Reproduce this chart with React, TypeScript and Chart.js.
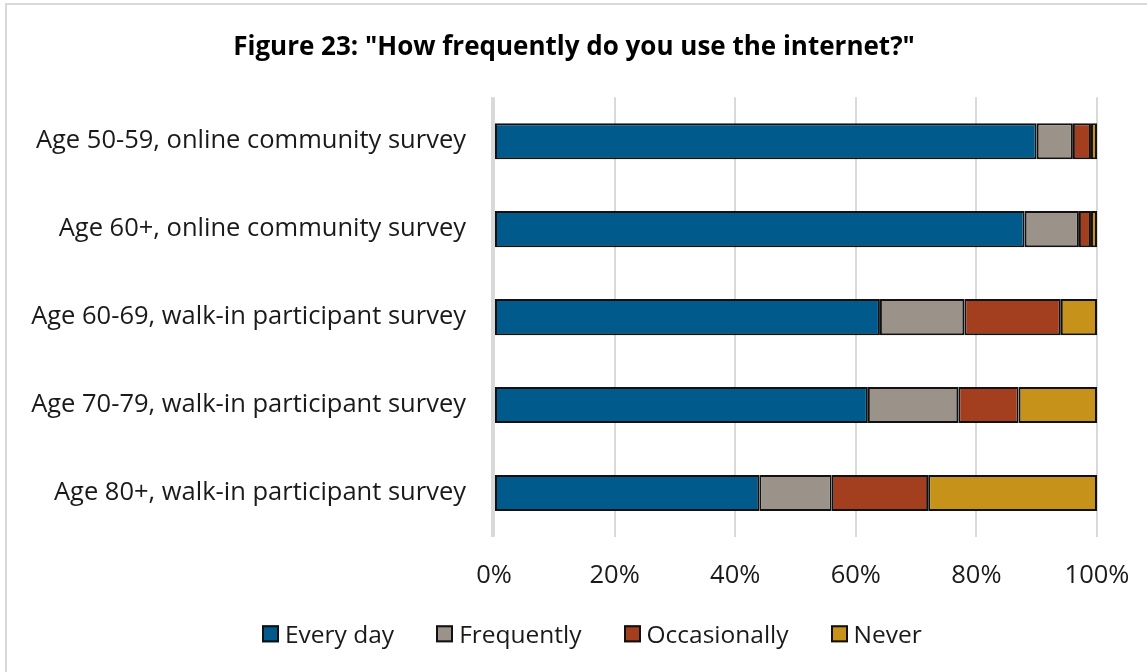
import React, { useEffect, useRef } from "react";
import { Chart, registerables } from "chart.js";

Chart.register(...registerables);

const categories = [
  "Age 50-59, online community survey",
  "Age 60+, online community survey",
  "Age 60-69, walk-in participant survey",
  "Age 70-79, walk-in participant survey",
  "Age 80+, walk-in participant survey",
];
const everyDay = [90, 88, 64, 62, 44];
const frequently = [6, 9, 14, 15, 12];
const occasionally = [3, 2, 16, 10, 16];
const never = [1, 1, 6, 13, 28];
const seriesNames = ["Every day", "Frequently", "Occasionally", "Never"];
const seriesColors = ["#005A8C", "#9B9389", "#A33F1F", "#C7921A"];
const titleText = 'Figure 23: "How frequently do you use the internet?"';

const FONT = "'Open Sans', 'Liberation Sans', sans-serif";
const LABEL_SIZE = 25.5;

export default function App() {
  const ref = useRef<HTMLCanvasElement | null>(null);
  useEffect(() => {
    if (!ref.current) return;
    const values = [everyDay, frequently, occasionally, never];
    const padL = 22;
    const chart = new Chart(ref.current, {
      type: "bar",
      data: {
        labels: categories,
        datasets: values.map((v, i) => ({
          label: seriesNames[i],
          data: v,
          backgroundColor: seriesColors[i],
          borderColor: "#111111",
          borderWidth: 2,
          borderSkipped: false,
          barPercentage: 0.41,
          categoryPercentage: 1,
        })),
      },
      options: {
        indexAxis: "y",
        responsive: false,
        maintainAspectRatio: false,
        animation: false,
        layout: { padding: { left: padL, right: 21, top: 0, bottom: 81 } },
        scales: {
          x: {
            stacked: true,
            min: 0,
            max: 100,
            ticks: {
              stepSize: 20,
              callback: (v: any) => v + "%",
              font: { family: FONT, size: LABEL_SIZE },
              color: "#1a1a1a",
              padding: 23,
            },
            grid: { color: "#d9d9d9", lineWidth: 2, drawTicks: false },
            border: { display: false },
            afterFit: (scale: any) => {
              scale.paddingLeft = 0;
              scale.paddingRight = 50;
              scale.height = 54;
            },
          },
          y: {
            stacked: true,
            ticks: {
              font: { family: FONT, size: LABEL_SIZE },
              color: "#1a1a1a",
              padding: 28,
            },
            grid: { display: false, drawTicks: false },
            border: { display: false },
            afterFit: (scale: any) => {
              scale.width = 494 - padL;
              scale.paddingTop = 0;
              scale.paddingBottom = 0;
            },
          },
        },
        plugins: {
          title: {
            display: true,
            text: titleText,
            font: { family: FONT, size: 26, weight: "bold" },
            color: "#000000",
            padding: { top: 32, bottom: 34 },
          },
          legend: { display: false },
          tooltip: { enabled: false },
        },
      },
      plugins: [
        {
          id: "yaxisline",
          afterDatasetsDraw(c: any) {
            const ctx = c.ctx;
            const a = c.chartArea;
            ctx.save();
            ctx.strokeStyle = "#d9d9d9";
            ctx.lineWidth = 2;
            ctx.beginPath();
            ctx.moveTo(a.left - 2, a.top);
            ctx.lineTo(a.left - 2, a.bottom);
            ctx.stroke();
            ctx.restore();
          },
        },
      ],
    });
    return () => chart.destroy();
  }, []);
  return (
    <div
      style={{
        position: "absolute",
        left: 0,
        top: 0,
        width: 1147,
        height: 672,
        overflow: "hidden",
        background: "#ffffff",
      }}
    >
      <canvas
        ref={ref}
        width={1147}
        height={672}
        style={{ position: "absolute", left: 0, top: 0, width: 1147, height: 672 }}
      />
      <div
        style={{
          position: "absolute",
          left: 262,
          top: 634,
          transform: "translateY(-50%)",
          display: "flex",
          alignItems: "center",
          fontFamily: FONT,
          fontSize: 24.5,
          color: "#1a1a1a",
          whiteSpace: "nowrap",
          lineHeight: 1.2,
        }}
      >
        {seriesNames.map((n, i) => (
          <div
            key={n}
            style={{
              display: "flex",
              alignItems: "center",
              marginRight: i < seriesNames.length - 1 ? 42 : 0,
            }}
          >
            <span
              style={{
                display: "inline-block",
                width: 13,
                height: 13,
                background: seriesColors[i],
                border: "2px solid #111",
                marginRight: 6,
              }}
            />
            <span>{n}</span>
          </div>
        ))}
      </div>
      <div
        style={{
          position: "absolute",
          left: 5,
          top: 3,
          width: 1200,
          height: 720,
          border: "2px solid #d9d9d9",
          pointerEvents: "none",
        }}
      />
    </div>
  );
}
